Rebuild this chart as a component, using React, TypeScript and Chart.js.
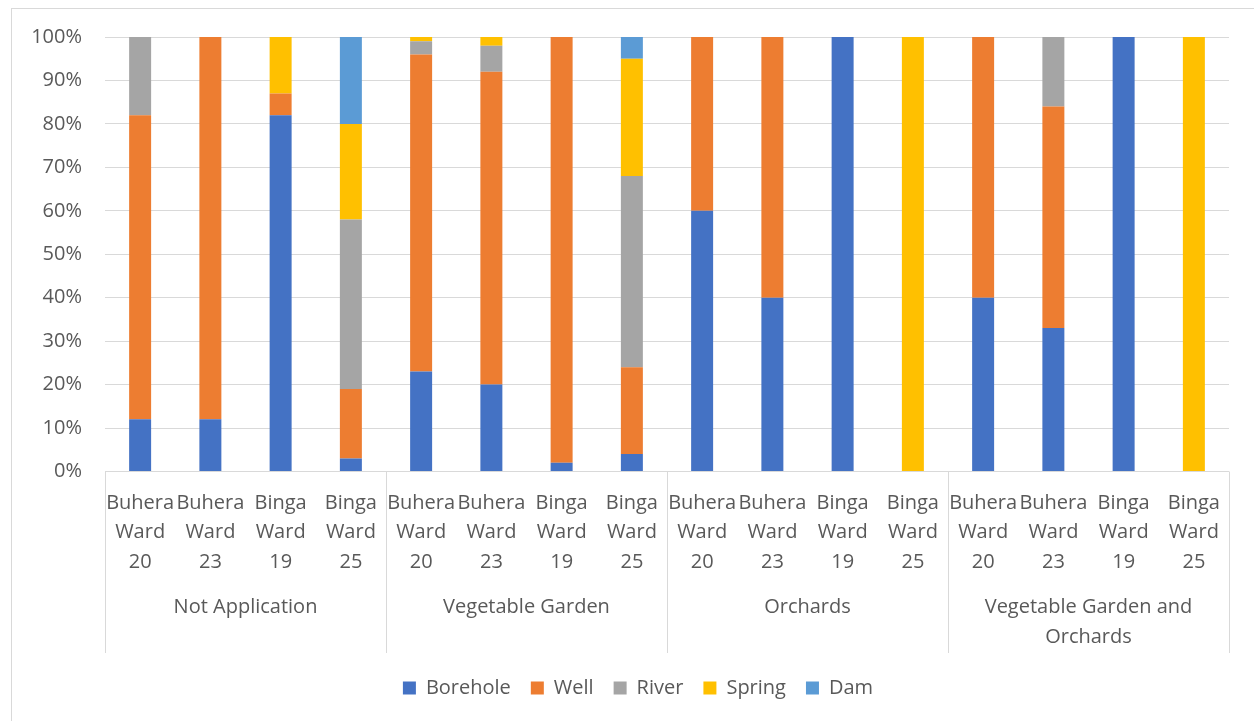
import React, { useEffect, useRef } from "react";
import { Chart, registerables } from "chart.js";

Chart.register(...registerables);

const groups: (string | string[])[] = [
  "Not Application",
  "Vegetable Garden",
  "Orchards",
  ["Vegetable Garden and", "Orchards"],
];
const wards: string[][] = [
  ["Buhera", "Ward", "20"],
  ["Buhera", "Ward", "23"],
  ["Binga", "Ward", "19"],
  ["Binga", "Ward", "25"],
];
const categories: string[][] = [...wards, ...wards, ...wards, ...wards];

const borehole = [12, 12, 82, 3, 23, 20, 2, 4, 60, 40, 100, 0, 40, 33, 100, 0];
const well = [70, 88, 5, 16, 73, 72, 98, 20, 40, 60, 0, 0, 60, 51, 0, 0];
const river = [18, 0, 0, 39, 3, 6, 0, 44, 0, 0, 0, 0, 0, 16, 0, 0];
const spring = [0, 0, 13, 22, 1, 2, 0, 27, 0, 0, 0, 100, 0, 0, 0, 100];
const dam = [0, 0, 0, 20, 0, 0, 0, 5, 0, 0, 0, 0, 0, 0, 0, 0];

const yTicks = [0, 10, 20, 30, 40, 50, 60, 70, 80, 90, 100];

const FONT = "'Open Sans', 'DejaVu Sans', sans-serif";
const TEXT = "#595959";
const GRID = "#d9d9d9";

const separatorPlugin = {
  id: "groupSeparators",
  afterDraw(chart: any) {
    const { ctx, chartArea } = chart;
    const x2 = chart.scales.x2;
    if (!x2) return;
    const n = groups.length;
    const w = (chartArea.right - chartArea.left) / n;
    ctx.save();
    ctx.strokeStyle = GRID;
    ctx.lineWidth = 1;
    for (let i = 0; i <= n; i++) {
      const x = Math.round(chartArea.left + i * w) + 0.5;
      ctx.beginPath();
      ctx.moveTo(x, chartArea.bottom);
      ctx.lineTo(x, x2.bottom - 5);
      ctx.stroke();
    }
    ctx.restore();
  },
};

export default function App() {
  const ref = useRef<HTMLCanvasElement | null>(null);

  useEffect(() => {
    if (!ref.current) return;
    const mk = (label: string, data: number[], color: string) => ({
      label,
      data,
      backgroundColor: color,
      borderWidth: 0,
      categoryPercentage: 1,
      barPercentage: 0.313,
    });
    const chart = new Chart(ref.current, {
      type: "bar",
      data: {
        labels: categories,
        datasets: [
          mk("Borehole", borehole, "#4472C4"),
          mk("Well", well, "#ED7D31"),
          mk("River", river, "#A5A5A5"),
          mk("Spring", spring, "#FFC000"),
          mk("Dam", dam, "#5B9BD5"),
        ],
      },
      options: {
        animation: false,
        responsive: true,
        maintainAspectRatio: false,
        layout: { padding: { left: 10, right: 0, top: 28, bottom: 13 } },
        plugins: {
          tooltip: { enabled: false },
          legend: {
            position: "bottom",
            labels: {
              boxWidth: 13,
              boxHeight: 13,
              padding: 20,
              color: TEXT,
              font: { family: FONT, size: 20 },
            },
          },
        },
        scales: {
          x: {
            stacked: true,
            weight: 0,
            grid: { display: false, drawTicks: false },
            border: { display: false },
            ticks: {
              color: TEXT,
              font: { family: FONT, size: 20, lineHeight: 1.475 },
              maxRotation: 0,
              autoSkip: false,
              padding: 17,
            },
          },
          x2: {
            type: "category",
            labels: groups as any,
            position: "bottom",
            offset: true,
            weight: 1,
            grid: { display: false, drawTicks: false },
            border: { display: false },
            afterFit: (scale: any) => {
              scale.height = 64;
            },
            ticks: {
              color: TEXT,
              font: { family: FONT, size: 20, lineHeight: 1.5 },
              maxRotation: 0,
              autoSkip: false,
              padding: -2,
            },
          },
          y: {
            stacked: true,
            min: 0,
            max: 100,
            afterBuildTicks: (scale: any) => {
              scale.ticks = yTicks.map((v) => ({ value: v }));
            },
            afterFit: (scale: any) => {
              scale.width = 83;
              scale.paddingTop = 0;
              scale.paddingBottom = 0;
            },
            grid: { color: GRID, lineWidth: 1, drawTicks: false },
            border: { display: false },
            ticks: {
              color: TEXT,
              font: { family: FONT, size: 20 },
              padding: 23,
              callback: (v: any) => v + "%",
            },
          },
          yR: {
            position: "right",
            display: true,
            grid: { display: false, drawTicks: false },
            border: { display: false },
            ticks: { display: false },
            afterFit: (scale: any) => {
              scale.width = 25;
              scale.paddingTop = 0;
              scale.paddingBottom = 0;
            },
          },
        },
      },
      plugins: [separatorPlugin],
    });
    return () => chart.destroy();
  }, []);

  return (
    <div
      style={{
        position: "absolute",
        left: 11,
        top: 8,
        width: 1243,
        height: 713,
        borderLeft: "1px solid #d9d9d9",
        borderTop: "1px solid #d9d9d9",
        boxSizing: "border-box",
        background: "#fff",
      }}
    >
      <div style={{ position: "relative", width: 1242, height: 712 }}>
        <canvas ref={ref} />
      </div>
    </div>
  );
}
